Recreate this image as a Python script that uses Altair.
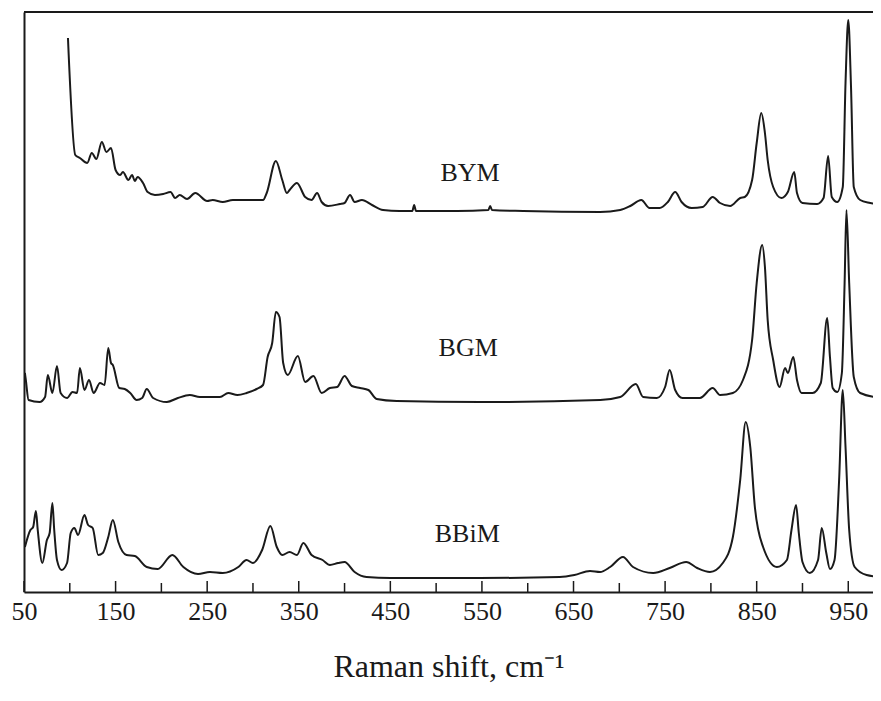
import altair as alt
import pandas as pd

# Raman shift (cm-1) and offset intensity (arbitrary units)
bym_x = [98, 106, 111, 119, 124, 129, 135, 140, 145, 150, 155, 158, 164, 168, 171, 174, 180, 185, 193, 202,
         210, 215, 220, 228, 237, 250, 256, 267, 278, 297, 311, 315, 325, 332, 337, 340, 348, 357, 364, 370,
         375, 382, 395, 400, 406, 411, 419, 430, 442, 460, 474, 476, 478, 523, 557, 559, 561, 595, 679, 701,
         712, 724, 733, 744, 753, 761, 768, 779, 791, 802, 810, 821, 832, 837, 845, 850, 855, 859, 862, 868,
         877, 884, 891, 894, 900, 916, 923, 928, 932, 938, 944, 947, 950, 953, 956, 963, 974, 986]
bym_y = [554, 437, 434, 429, 439, 433, 450, 440, 444, 422, 417, 420, 412, 417, 411, 415, 409, 400, 397, 398,
         400, 394, 397, 393, 399, 391, 392, 390, 392, 392, 392, 399, 431, 412, 399, 402, 409, 395, 392, 399,
         390, 386, 388, 389, 397, 390, 392, 387, 382, 381, 381, 387, 381, 381, 382, 386, 382, 381, 380, 382,
         386, 392, 384, 384, 390, 400, 390, 384, 385, 395, 389, 386, 394, 395, 412, 449, 479, 459, 432, 405,
         394, 400, 420, 399, 389, 388, 394, 436, 395, 390, 405, 509, 572, 505, 405, 392, 389, 387]

bgm_x = [51, 52, 55, 67, 73, 76, 81, 86, 90, 97, 103, 108, 111, 116, 121, 126, 133, 138, 142, 145,
         147, 154, 160, 166, 173, 179, 184, 191, 206, 218, 231, 242, 264, 273, 283, 293, 304, 311, 316, 321,
         325, 329, 333, 338, 349, 357, 366, 375, 384, 392, 400, 408, 417, 426, 435, 457, 548, 679, 701, 718,
         726, 741, 750, 755, 761, 769, 788, 802, 810, 824, 835, 845, 850, 856, 859, 862, 868, 875, 881, 884,
         890, 894, 899, 911, 920, 927, 930, 933, 938, 943, 946, 948, 951, 956, 963, 986]
bgm_y = [219, 212, 192, 190, 195, 217, 199, 226, 199, 194, 200, 199, 224, 202, 212, 199, 209, 207, 244, 229,
         227, 204, 203, 199, 192, 194, 203, 194, 190, 194, 197, 195, 195, 199, 197, 199, 203, 207, 235, 249,
         280, 275, 229, 217, 236, 210, 216, 199, 204, 205, 216, 206, 204, 202, 193, 191, 190, 192, 195, 208,
         195, 194, 205, 222, 202, 194, 194, 204, 197, 199, 212, 252, 309, 347, 325, 272, 232, 205, 224, 219,
         235, 212, 199, 199, 209, 274, 235, 204, 200, 219, 309, 382, 309, 215, 199, 194]

bbim_x = [51, 57, 60, 63, 65, 70, 75, 78, 81, 83, 86, 91, 97, 101, 105, 109, 116, 120, 125, 131,
          136, 142, 147, 153, 162, 171, 184, 196, 212, 224, 240, 253, 267, 284, 293, 300, 310, 319, 326, 332,
          340, 348, 355, 364, 376, 384, 393, 400, 411, 424, 450, 548, 635, 651, 668, 679, 690, 704, 715, 737,
          755, 773, 785, 799, 813, 824, 832, 838, 843, 848, 857, 872, 883, 888, 893, 896, 900, 908, 917, 921,
          926, 930, 935, 940, 944, 947, 951, 957, 970, 986]
bbim_y = [45, 62, 65, 81, 62, 29, 52, 59, 89, 62, 32, 22, 29, 59, 64, 57, 77, 67, 64, 37,
          39, 55, 72, 50, 37, 36, 25, 23, 37, 25, 18, 20, 19, 25, 32, 29, 42, 66, 45, 37,
          40, 37, 49, 37, 32, 27, 29, 30, 20, 15, 14, 14, 15, 17, 21, 20, 25, 35, 25, 19,
          24, 30, 24, 20, 29, 55, 112, 170, 145, 85, 45, 25, 32, 62, 87, 59, 30, 19, 32, 64,
          39, 23, 32, 112, 202, 145, 62, 25, 17, 15]

sample_names = ["BYM", "BGM", "BBiM"]
label_x = [537, 535, 534]
label_y = [419, 244, 58]

label_ticks = [50, 150, 250, 350, 450, 550, 650, 750, 850, 950]
minor_ticks = [100, 200, 300, 400, 500, 600, 700, 800, 900]

frames = []
for name, xs, ys in [("BYM", bym_x, bym_y), ("BGM", bgm_x, bgm_y), ("BBiM", bbim_x, bbim_y)]:
    frames.append(pd.DataFrame({"shift": xs, "intensity": ys, "sample": name}))
df = pd.concat(frames, ignore_index=True)

labels_df = pd.DataFrame({"shift": label_x, "intensity": label_y, "sample": sample_names})
major_df = pd.DataFrame({"shift": label_ticks})
minor_df = pd.DataFrame({"shift": minor_ticks})

W, H = 849, 580
FONT = "Liberation Serif"
INK = "#1a1a1a"

xscale = alt.Scale(domain=[50, 977], nice=False, zero=False)
yscale = alt.Scale(domain=[0, 580], nice=False, zero=False)

lines = alt.Chart(df).mark_line(color=INK, strokeWidth=2, clip=True, interpolate="monotone").encode(
    x=alt.X("shift:Q", scale=xscale,
            axis=alt.Axis(values=label_ticks, ticks=False, tickSize=0, grid=False,
                          labelFont=FONT, labelFontSize=26, labelColor=INK, labelPadding=6,
                          labelFlush=False, labelOverlap=False,
                          domainColor=INK, domainWidth=2,
                          title="Raman shift, cm\u207b\u00b9", titleFont=FONT, titleFontSize=32,
                          titleFontWeight="normal", titleColor=INK, titlePadding=27)),
    y=alt.Y("intensity:Q", scale=yscale,
            axis=alt.Axis(labels=False, ticks=False, grid=False, title=None,
                          domainColor=INK, domainWidth=2)),
    detail="sample:N",
)

major = alt.Chart(major_df).mark_rule(color=INK, strokeWidth=1.5).encode(
    x=alt.X("shift:Q", scale=xscale), y=alt.value(H - 11), y2=alt.value(H)
)
minor = alt.Chart(minor_df).mark_rule(color=INK, strokeWidth=1.5).encode(
    x=alt.X("shift:Q", scale=xscale), y=alt.value(H - 9), y2=alt.value(H)
)
top = alt.Chart(pd.DataFrame({"a": [0]})).mark_rule(color=INK, strokeWidth=2).encode(
    x=alt.value(0), x2=alt.value(W), y=alt.value(0)
)
text = alt.Chart(labels_df).mark_text(font=FONT, fontSize=26, color=INK, baseline="middle", align="center").encode(
    x=alt.X("shift:Q", scale=xscale), y=alt.Y("intensity:Q", scale=yscale), text="sample:N"
)

chart = alt.layer(lines, major, minor, top, text).properties(
    width=W, height=H,
    autosize=alt.AutoSizeParams(type="none"),
    padding={"left": 16, "top": 4, "right": 0, "bottom": 100},
).configure_view(stroke=None)

chart.save("out.html", embed_options={"renderer": "svg", "actions": False})
